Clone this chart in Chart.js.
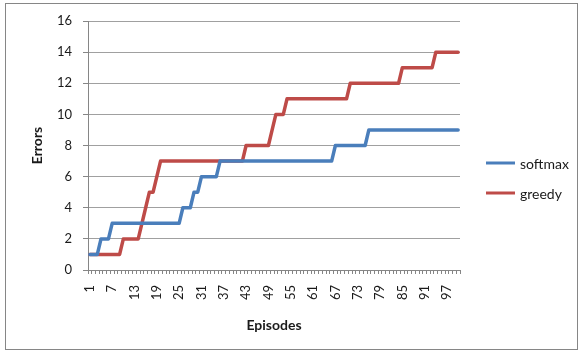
<!DOCTYPE html>
<html>
<head>
<meta charset="utf-8">
<script src="https://cdn.jsdelivr.net/npm/chart.js@4/dist/chart.umd.min.js"></script>
<style>
  html, body { margin: 0; padding: 0; background: #fff; }
  #wrap { position: relative; width: 586px; height: 354px; }
  canvas { display: block; }
</style>
</head>
<body>
<div id="wrap"><canvas id="chart" width="586" height="354"></canvas></div>
<script>
// Episode numbers along the category axis
const episodes = Array.from({ length: 100 }, (_, i) => String(i + 1));

// Cumulative errors per episode
const softmax = [
  1, 1, 1, 2, 2, 2, 3, 3, 3, 3,
  3, 3, 3, 3, 3, 3, 3, 3, 3, 3,
  3, 3, 3, 3, 3, 4, 4, 4, 5, 5,
  6, 6, 6, 6, 6, 7, 7, 7, 7, 7,
  7, 7, 7, 7, 7, 7, 7, 7, 7, 7,
  7, 7, 7, 7, 7, 7, 7, 7, 7, 7,
  7, 7, 7, 7, 7, 7, 8, 8, 8, 8,
  8, 8, 8, 8, 8, 9, 9, 9, 9, 9,
  9, 9, 9, 9, 9, 9, 9, 9, 9, 9,
  9, 9, 9, 9, 9, 9, 9, 9, 9, 9
];
const greedy = [
  1, 1, 1, 1, 1, 1, 1, 1, 1, 2,
  2, 2, 2, 2, 3, 4, 5, 5, 6, 7,
  7, 7, 7, 7, 7, 7, 7, 7, 7, 7,
  7, 7, 7, 7, 7, 7, 7, 7, 7, 7,
  7, 7, 8, 8, 8, 8, 8, 8, 8, 9,
  10, 10, 10, 11, 11, 11, 11, 11, 11, 11,
  11, 11, 11, 11, 11, 11, 11, 11, 11, 11,
  12, 12, 12, 12, 12, 12, 12, 12, 12, 12,
  12, 12, 12, 12, 13, 13, 13, 13, 13, 13,
  13, 13, 13, 14, 14, 14, 14, 14, 14, 14
];

// Episode labels printed under the axis
const shownTicks = ['1', '7', '13', '19', '25', '31', '37', '43', '49', '55', '61', '67', '73', '79', '85', '91', '97'];

const seriesNames = ['softmax', 'greedy'];
const seriesColors = ['#4a7ebb', '#be4b48'];

const FONT = 'Lato, "Open Sans", sans-serif';
const TEXT = '#1a1a1a';
const AXIS = '#868686';
const GRID = '#a0a0a0';

// White page with a thin outer frame
const framePlugin = {
  id: 'frame',
  beforeDraw(chart) {
    const ctx = chart.ctx;
    ctx.save();
    ctx.fillStyle = '#ffffff';
    ctx.fillRect(0, 0, chart.width, chart.height);
    ctx.strokeStyle = AXIS;
    ctx.lineWidth = 1;
    ctx.strokeRect(5.5, 3.5, 572, 346);
    ctx.restore();
  }
};

// Legend to the right of the plot: a short line sample followed by the series name
const sideLegend = {
  id: 'sideLegend',
  afterDraw(chart) {
    const ctx = chart.ctx;
    const x0 = 486, lineLen = 29, gap = 5, top = 163, step = 30;
    ctx.save();
    ctx.font = '14px ' + FONT;
    ctx.textBaseline = 'middle';
    ctx.textAlign = 'left';
    chart.data.datasets.forEach((ds, i) => {
      const y = top + i * step;
      ctx.strokeStyle = ds.borderColor;
      ctx.lineWidth = 3;
      ctx.lineCap = 'butt';
      ctx.beginPath();
      ctx.moveTo(x0, y);
      ctx.lineTo(x0 + lineLen, y);
      ctx.stroke();
      ctx.fillStyle = TEXT;
      ctx.fillText(ds.label, x0 + lineLen + gap, y + 1);
    });
    ctx.restore();
  }
};

new Chart(document.getElementById('chart'), {
  type: 'line',
  data: {
    labels: episodes,
    datasets: [
      { label: seriesNames[0], data: softmax, borderColor: seriesColors[0], backgroundColor: seriesColors[0] },
      { label: seriesNames[1], data: greedy, borderColor: seriesColors[1], backgroundColor: seriesColors[1] }
    ]
  },
  options: {
    responsive: false,
    animation: false,
    devicePixelRatio: 1,
    layout: { padding: { left: 0, right: 126, top: 21, bottom: 0 } },
    elements: {
      point: { radius: 0, hoverRadius: 0 },
      line: { borderWidth: 3.5, tension: 0, borderJoinStyle: 'round', borderCapStyle: 'round', fill: false }
    },
    plugins: {
      legend: { display: false },
      tooltip: { enabled: false },
      title: { display: false }
    },
    scales: {
      x: {
        type: 'category',
        offset: true,
        grid: {
          offset: true,
          drawOnChartArea: false,
          drawTicks: true,
          tickLength: 4,
          color: AXIS,
          lineWidth: 1
        },
        border: { display: true, color: AXIS, width: 1 },
        ticks: {
          autoSkip: false,
          minRotation: 90,
          maxRotation: 90,
          padding: 11,
          color: TEXT,
          font: { family: FONT, size: 13 },
          callback(value, index) {
            const label = this.getLabelForValue(value);
            return shownTicks.includes(label) ? label : '';
          }
        },
        title: {
          display: true,
          text: 'Episodes',
          color: TEXT,
          font: { family: FONT, size: 14, weight: 'bold' },
          padding: { top: 0, bottom: 20 }
        },
        afterFit(scale) { scale.height = 84; }
      },
      y: {
        min: 0,
        max: 16,
        grid: {
          color: GRID,
          lineWidth: 1,
          drawTicks: true,
          tickLength: 5,
          tickColor: AXIS
        },
        border: { display: true, color: AXIS, width: 1 },
        ticks: {
          stepSize: 2,
          padding: 11,
          color: TEXT,
          font: { family: FONT, size: 13 }
        },
        title: {
          display: true,
          text: 'Errors',
          color: TEXT,
          font: { family: FONT, size: 14, weight: 'bold' },
          padding: { top: 29, bottom: 0 }
        },
        afterFit(scale) { scale.width = 88; }
      }
    }
  },
  plugins: [framePlugin, sideLegend]
});
</script>
</body>
</html>
